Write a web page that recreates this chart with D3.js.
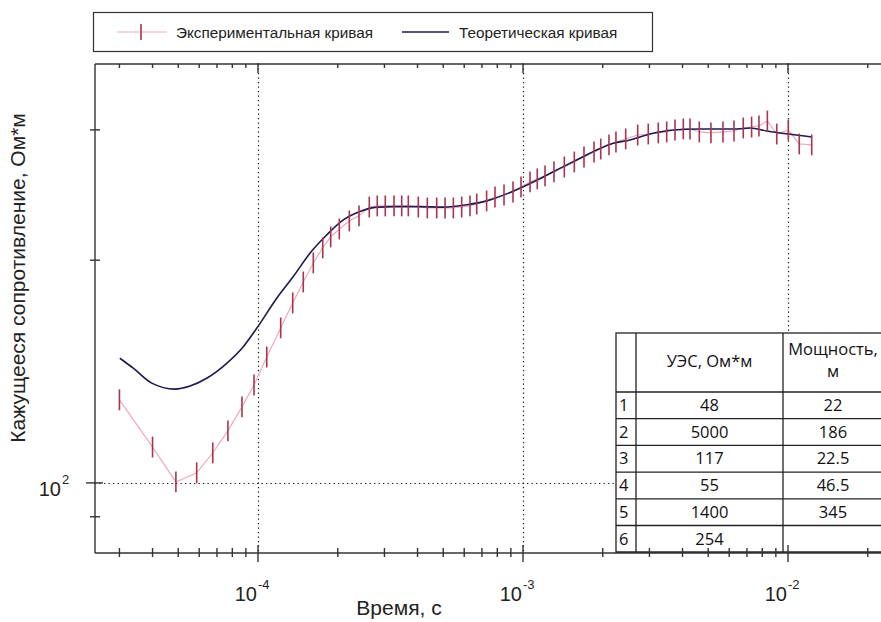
<!DOCTYPE html>
<html><head><meta charset="utf-8">
<script src="https://cdn.jsdelivr.net/npm/d3@7"></script>
<style>body{margin:0;background:#fff}svg{display:block}</style></head>
<body><svg id="c" width="881" height="622"></svg>
<script>
// ---- data ----
const expTime = [3.0e-5,4.0e-5,4.9e-5,5.87e-5,6.75e-5,7.7e-5,8.7e-5,9.66e-5,1.079e-4,1.218e-4,
  1.352e-4,1.482e-4,1.617e-4,1.755e-4,1.881e-4,2.027e-4,2.211e-4,2.405e-4,2.63e-4,2.819e-4,
  3.022e-4,3.261e-4,3.486e-4,3.692e-4,4.027e-4,4.355e-4,4.725e-4,5.08e-4,5.46e-4,5.87e-4,
  6.31e-4,6.69e-4,7.29e-4,7.84e-4,8.48e-4,9.17e-4,9.83e-4,1.063e-3,1.132e-3,1.211e-3,
  1.309e-3,1.432e-3,1.562e-3,1.699e-3,1.854e-3,1.965e-3,2.111e-3,2.243e-3,2.441e-3,2.709e-3,
  2.97e-3,3.24e-3,3.486e-3,3.747e-3,4.027e-3,4.268e-3,4.627e-3,5.12e-3,5.685e-3,6.255e-3,
  6.78e-3,7.29e-3,7.77e-3,8.36e-3,9.07e-3,1.0026e-2,1.103e-2,1.229e-2];
const expRho = [129.5,111.8,100.3,103.2,109.8,117.6,126.7,135.6,148.0,162.0,
  175.1,186.9,198.3,207.8,215.0,220.4,226.0,229.6,236.0,236.8,
  236.8,236.8,236.8,236.8,236.0,235.3,235.3,235.3,235.3,236.0,
  236.8,238.2,240.5,243.5,245.0,247.3,251.2,255.2,257.6,260.0,
  263.3,267.3,271.5,275.7,280.1,282.7,286.3,288.9,291.7,295.3,
  296.2,297.2,298.1,299.9,300.9,300.9,298.1,297.2,298.1,299.0,
  301.8,302.7,303.7,308.4,296.2,299.9,287.2,286.3];
const expRelErr = 0.033;

const theoTime = [3.01e-5,3.383e-5,3.97e-5,4.86e-5,5.54e-5,6.40e-5,7.62e-5,8.80e-5,9.89e-5,1.177e-4,
  1.359e-4,1.571e-4,1.816e-4,2.099e-4,2.426e-4,2.764e-4,3.289e-4,4.087e-4,4.99e-4,6.13e-4,
  7.51e-4,9.74e-4,1.193e-3,1.42e-3,1.641e-3,1.897e-3,2.192e-3,2.533e-3,3.015e-3,3.692e-3,
  4.656e-3,6.42e-3,7.19e-3,8.33e-3,1.0e-2,1.232e-2];
const theoRho = [147.4,142.9,136.4,133.9,135.2,138.5,145.1,152.8,161.8,177.7,
  190.1,204.4,216.3,226.7,232.7,235.7,236.3,236.3,235.9,237.6,
  241.3,250.2,259.1,267.6,274.7,281.8,287.7,290.7,296.2,299.9,
  300.9,300.9,301.8,299.0,296.2,293.5];

const xMajorTicks = [1e-4, 1e-3, 1e-2];
const xMajorExp = ["-4", "-3", "-2"];
const xMinorTicks = [3e-5,4e-5,5e-5,6e-5,7e-5,8e-5,9e-5,
  2e-4,3e-4,4e-4,5e-4,6e-4,7e-4,8e-4,9e-4,
  2e-3,3e-3,4e-3,5e-3,6e-3,7e-3,8e-3,9e-3,2e-2];
const yMajorTicks = [100];
const yMajorExp = ["2"];
const yMinorTicks = [90, 200, 300];

const legendLabels = ["Экспериментальная кривая", "Теоретическая кривая"];
const xTitle = "Время, с";
const yTitle = "Кажущееся сопротивление, Ом*м";

const tableHead = ["", "УЭС, Ом*м", "Мощность,|м"];
const layerNo = ["1","2","3","4","5","6"];
const layerRes = ["48","5000","117","55","1400","254"];
const layerThk = ["22","186","22.5","46.5","345",""];

// ---- layout ----
const svg = d3.select("#c");
const L = 95, R = 881, T = 64, B = 553;
const x = d3.scaleLog().domain([2.426e-5, 2.244e-2]).range([L, R]);
const y = d3.scaleLog().domain([80.4, 368.3]).range([B, T]);
const axisColor = "#333";
const font = "'Liberation Sans', Arial, sans-serif";

svg.append("rect").attr("width", 881).attr("height", 622).attr("fill", "#fff");

svg.append("defs").append("clipPath").attr("id", "pc")
  .append("rect").attr("x", L).attr("y", T).attr("width", R - L).attr("height", B - T);

// grid
const grid = svg.append("g").attr("stroke", "#111").attr("stroke-width", 1.2)
  .attr("stroke-dasharray", "1.3,3.2");
grid.selectAll(".vg").data(xMajorTicks).join("line")
  .attr("x1", d => Math.round(x(d)) + 0.5).attr("x2", d => Math.round(x(d)) + 0.5)
  .attr("y1", T).attr("y2", B);
grid.selectAll(".hg").data(yMajorTicks).join("line")
  .attr("x1", L).attr("x2", R)
  .attr("y1", d => Math.round(y(d)) + 0.5).attr("y2", d => Math.round(y(d)) + 0.5);

// curves
const plot = svg.append("g").attr("clip-path", "url(#pc)");
const expData = expTime.map((t, i) => ({t, r: expRho[i]}));
const theoData = theoTime.map((t, i) => ({t, r: theoRho[i]}));

plot.append("path").datum(expData)
  .attr("fill", "none").attr("stroke", "#f2a9b8").attr("stroke-width", 1.2)
  .attr("d", d3.line().x(d => x(d.t)).y(d => y(d.r)));

plot.append("path").datum(theoData)
  .attr("fill", "none").attr("stroke", "#1c1a4e").attr("stroke-width", 1.6)
  .attr("d", d3.line().curve(d3.curveMonotoneX).x(d => x(d.t)).y(d => y(d.r)));

plot.selectAll(".eb").data(expData).join("line")
  .attr("x1", d => x(d.t)).attr("x2", d => x(d.t))
  .attr("y1", d => y(d.r * (1 + expRelErr))).attr("y2", d => y(d.r / (1 + expRelErr)))
  .attr("stroke", "#a8344f").attr("stroke-width", 1.6);

// axes lines
const ax = svg.append("g").attr("stroke", axisColor).attr("stroke-width", 1.4).attr("fill", "none");
ax.append("line").attr("x1", L).attr("x2", L).attr("y1", T).attr("y2", B);
ax.append("line").attr("x1", L).attr("x2", R).attr("y1", T).attr("y2", T);

// x ticks
ax.selectAll(".xmit").data(xMinorTicks).join("line")
  .attr("x1", d => x(d)).attr("x2", d => x(d)).attr("y1", T).attr("y2", T + 4);
ax.selectAll(".xmat").data(xMajorTicks).join("line")
  .attr("x1", d => x(d)).attr("x2", d => x(d)).attr("y1", T - 1).attr("y2", T + 9);
// y ticks
ax.selectAll(".ymi").data(yMinorTicks).join("line")
  .attr("x1", L - 5).attr("x2", L + 5).attr("y1", d => y(d)).attr("y2", d => y(d));
ax.selectAll(".yma").data(yMajorTicks).join("line")
  .attr("x1", L - 9).attr("x2", L + 8).attr("y1", d => y(d)).attr("y2", d => y(d));

// tick labels
const tl = svg.append("g").attr("font-family", font).attr("fill", "#222");
xMajorTicks.forEach((t, i) => {
  tl.append("text").attr("x", x(t) - 1).attr("y", 601).attr("text-anchor", "end")
    .attr("font-size", 20).text("10");
  tl.append("text").attr("x", x(t)).attr("y", 589).attr("font-size", 13).text(xMajorExp[i]);
});
yMajorTicks.forEach((t, i) => {
  tl.append("text").attr("x", 61).attr("y", y(t) + 13).attr("text-anchor", "end")
    .attr("font-size", 20).text("10");
  tl.append("text").attr("x", 62).attr("y", y(t) + 1).attr("font-size", 13).text(yMajorExp[i]);
});

// titles
tl.append("text").attr("x", 399).attr("y", 615).attr("text-anchor", "middle")
  .attr("font-size", 21).text(xTitle);
tl.append("text").attr("transform", "translate(25,278) rotate(-90)").attr("text-anchor", "middle")
  .attr("font-size", 21).text(yTitle);

// legend
const lg = svg.append("g");
lg.append("rect").attr("x", 93.5).attr("y", 12.5).attr("width", 559).attr("height", 39)
  .attr("fill", "#fff").attr("stroke", "#333").attr("stroke-width", 1.2);
lg.append("line").attr("x1", 117).attr("x2", 167).attr("y1", 32).attr("y2", 32)
  .attr("stroke", "#f2a9b8").attr("stroke-width", 1.2);
lg.append("line").attr("x1", 141).attr("x2", 141).attr("y1", 24).attr("y2", 40)
  .attr("stroke", "#a8344f").attr("stroke-width", 1.6);
lg.append("line").attr("x1", 402).attr("x2", 449).attr("y1", 32).attr("y2", 32)
  .attr("stroke", "#1c1a4e").attr("stroke-width", 1.6);
lg.append("text").attr("x", 176).attr("y", 37.5).attr("font-family", font).attr("font-size", 15.3)
  .attr("fill", "#222").text(legendLabels[0]);
lg.append("text").attr("x", 459).attr("y", 37.5).attr("font-family", font).attr("font-size", 15.3)
  .attr("fill", "#222").text(legendLabels[1]);

// table
const tb = svg.append("g").attr("font-family", "'Open Sans', 'Noto Sans', sans-serif").attr("fill", "#111");
const tx = [616, 636, 783, 905];
const headTop = 333, headBot = 392, rowH = 26.7;
const fs = 16.5;
const tBottom = headBot + rowH * layerNo.length;
tb.append("rect").attr("x", tx[0]).attr("y", headTop).attr("width", tx[3] - tx[0]).attr("height", tBottom - headTop)
  .attr("fill", "#fff").attr("stroke", "#222").attr("stroke-width", 1.3);
[tx[1], tx[2]].forEach(cx => tb.append("line").attr("x1", cx).attr("x2", cx).attr("y1", headTop).attr("y2", tBottom)
  .attr("stroke", "#222").attr("stroke-width", 1.3));
for (let i = 0; i <= layerNo.length; i++) {
  const yy = headBot + i * rowH;
  tb.append("line").attr("x1", tx[0]).attr("x2", tx[3]).attr("y1", yy).attr("y2", yy)
    .attr("stroke", "#222").attr("stroke-width", 1.3);
}
tb.append("text").attr("x", (tx[1] + tx[2]) / 2).attr("y", 367).attr("text-anchor", "middle")
  .attr("font-size", fs).text(tableHead[1]);
const h2 = tableHead[2].split("|");
tb.append("text").attr("x", 833).attr("y", 355).attr("text-anchor", "middle").attr("font-size", fs).text(h2[0]);
tb.append("text").attr("x", 833).attr("y", 377).attr("text-anchor", "middle").attr("font-size", fs).text(h2[1]);
layerNo.forEach((n, i) => {
  const by = headBot + i * rowH + 19;
  tb.append("text").attr("x", 619).attr("y", by).attr("font-size", fs).text(n);
  tb.append("text").attr("x", (tx[1] + tx[2]) / 2).attr("y", by).attr("text-anchor", "middle").attr("font-size", fs).text(layerRes[i]);
  tb.append("text").attr("x", 833).attr("y", by).attr("text-anchor", "middle").attr("font-size", fs).text(layerThk[i]);
});

// bottom axis + ticks drawn over table edge
const bx = svg.append("g").attr("stroke", axisColor).attr("stroke-width", 1.4);
bx.append("line").attr("x1", L).attr("x2", R).attr("y1", B).attr("y2", B);
bx.selectAll(".xmi").data(xMinorTicks).join("line")
  .attr("x1", d => x(d)).attr("x2", d => x(d)).attr("y1", B - 5).attr("y2", B + 4);
bx.selectAll(".xma").data(xMajorTicks).join("line")
  .attr("x1", d => x(d)).attr("x2", d => x(d)).attr("y1", B - 8).attr("y2", B + 9);
</script></body></html>
